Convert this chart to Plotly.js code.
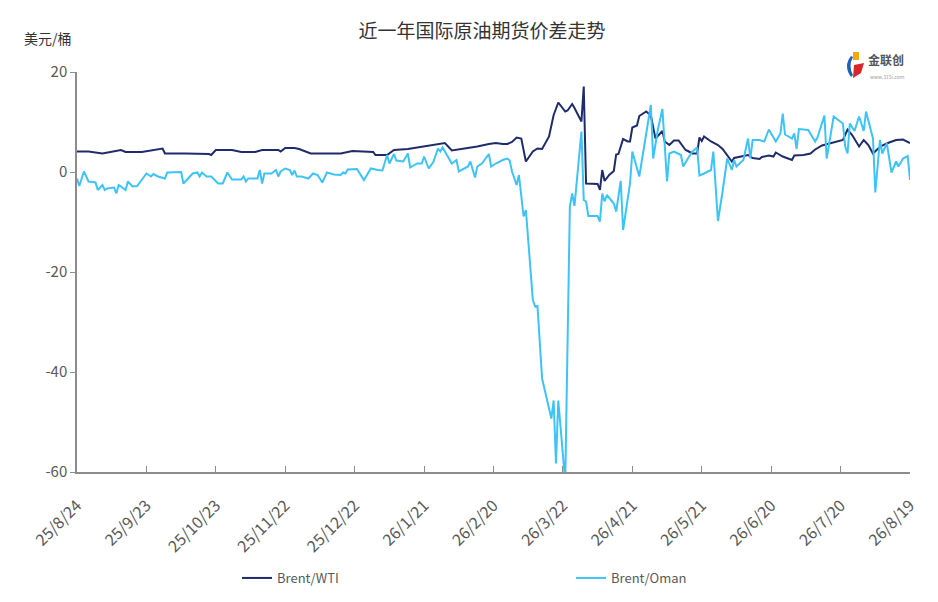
<!DOCTYPE html>
<html>
<head>
<meta charset="utf-8">
<script src="https://cdn.plot.ly/plotly-3.0.1.min.js"></script>
<style>
html,body{margin:0;padding:0;background:#fff;}
#chart{width:938px;height:602px;}
</style>
</head>
<body>
<div id="chart"></div>
<script>
// ---- data ----
const chartTitle = '近一年国际原油期货价差走势';
const unitLabel = '美元/桶';
const seriesNames = ['Brent/WTI', 'Brent/Oman'];

const wtiDates = ['2025-08-24','2025-08-29','2025-09-04','2025-09-12','2025-09-14','2025-09-21','2025-09-30','2025-10-01','2025-10-10','2025-10-20','2025-10-21','2025-10-23','2025-10-30','2025-11-03','2025-11-09','2025-11-12','2025-11-19','2025-11-20','2025-11-22','2025-11-26','2025-11-28','2025-12-03','2025-12-16','2025-12-21','2025-12-30','2025-12-31','2026-01-05','2026-01-08','2026-01-14','2026-01-21','2026-01-27','2026-01-30','2026-02-02','2026-02-07','2026-02-13','2026-02-18','2026-02-21','2026-02-24','2026-02-26','2026-02-28','2026-03-02','2026-03-04','2026-03-06','2026-03-09','2026-03-11','2026-03-13','2026-03-16','2026-03-18','2026-03-20','2026-03-23','2026-03-24','2026-03-26','2026-03-27','2026-03-30','2026-03-31','2026-04-01','2026-04-03','2026-04-06','2026-04-07','2026-04-08','2026-04-09','2026-04-11','2026-04-13','2026-04-14','2026-04-15','2026-04-17','2026-04-19','2026-04-20','2026-04-21','2026-04-23','2026-04-24','2026-04-27','2026-04-29','2026-05-01','2026-05-04','2026-05-05','2026-05-07','2026-05-09','2026-05-11','2026-05-14','2026-05-15','2026-05-17','2026-05-19','2026-05-20','2026-05-21','2026-05-22','2026-05-25','2026-05-28','2026-05-30','2026-06-01','2026-06-03','2026-06-04','2026-06-07','2026-06-10','2026-06-12','2026-06-15','2026-06-16','2026-06-19','2026-06-21','2026-06-22','2026-06-25','2026-06-29','2026-06-30','2026-07-04','2026-07-07','2026-07-09','2026-07-12','2026-07-15','2026-07-18','2026-07-21','2026-07-23','2026-07-25','2026-07-28','2026-07-30','2026-08-01','2026-08-03','2026-08-05','2026-08-07','2026-08-10','2026-08-13','2026-08-16','2026-08-19'];
const wtiValues = [4.1,4.1,3.7,4.4,4.0,4.0,4.7,3.7,3.7,3.6,3.4,4.4,4.4,4.0,4.0,4.4,4.4,4.1,4.8,4.8,4.6,3.7,3.7,4.2,4.0,3.4,3.4,4.4,4.6,5.1,5.5,5.8,4.3,4.6,5.1,5.6,5.8,5.6,5.6,6.0,6.9,6.7,2.1,4.1,4.7,4.6,7.1,11.4,13.9,12.1,12.3,13.6,12.8,10.1,17.1,-2.3,-2.4,-2.4,-3.6,0.4,-1.8,-0.6,0.2,3.5,3.6,6.6,6.1,6.1,8.9,9.3,11.2,12.1,11.3,6.7,8.2,6.1,5.4,6.3,6.3,4.4,4.2,3.7,3.7,6.9,6.2,7.1,6.1,5.4,4.6,3.4,2.1,2.8,3.1,3.4,2.8,2.6,3.0,3.3,3.1,3.9,3.1,2.4,3.3,3.4,3.7,4.5,5.3,5.7,6.0,6.4,8.5,7.4,5.1,6.4,5.4,3.7,4.6,5.3,5.9,6.4,6.5,5.8];

const omanDates = ['2025-08-24','2025-08-25','2025-08-27','2025-08-29','2025-09-01','2025-09-02','2025-09-04','2025-09-05','2025-09-06','2025-09-09','2025-09-10','2025-09-11','2025-09-12','2025-09-14','2025-09-15','2025-09-17','2025-09-19','2025-09-21','2025-09-23','2025-09-25','2025-09-26','2025-09-28','2025-10-01','2025-10-02','2025-10-08','2025-10-09','2025-10-11','2025-10-13','2025-10-15','2025-10-16','2025-10-17','2025-10-19','2025-10-21','2025-10-24','2025-10-26','2025-10-28','2025-10-30','2025-11-03','2025-11-04','2025-11-05','2025-11-06','2025-11-10','2025-11-11','2025-11-12','2025-11-13','2025-11-16','2025-11-18','2025-11-19','2025-11-20','2025-11-22','2025-11-24','2025-11-25','2025-11-26','2025-11-27','2025-11-29','2025-12-02','2025-12-04','2025-12-06','2025-12-08','2025-12-10','2025-12-13','2025-12-16','2025-12-17','2025-12-18','2025-12-19','2025-12-23','2025-12-26','2025-12-29','2026-01-01','2026-01-03','2026-01-05','2026-01-06','2026-01-08','2026-01-09','2026-01-12','2026-01-14','2026-01-15','2026-01-18','2026-01-20','2026-01-21','2026-01-23','2026-01-25','2026-01-27','2026-01-28','2026-01-29','2026-01-31','2026-02-02','2026-02-04','2026-02-05','2026-02-09','2026-02-10','2026-02-12','2026-02-13','2026-02-15','2026-02-18','2026-02-19','2026-02-21','2026-02-24','2026-02-26','2026-02-27','2026-02-28','2026-03-02','2026-03-03','2026-03-05','2026-03-06','2026-03-09','2026-03-10','2026-03-11','2026-03-13','2026-03-17','2026-03-18','2026-03-19','2026-03-20','2026-03-23','2026-03-25','2026-03-26','2026-03-27','2026-03-30','2026-03-31','2026-04-01','2026-04-02','2026-04-06','2026-04-07','2026-04-08','2026-04-09','2026-04-10','2026-04-13','2026-04-14','2026-04-16','2026-04-17','2026-04-20','2026-04-21','2026-04-24','2026-04-27','2026-04-29','2026-04-30','2026-05-02','2026-05-04','2026-05-06','2026-05-07','2026-05-09','2026-05-12','2026-05-13','2026-05-15','2026-05-17','2026-05-19','2026-05-20','2026-05-22','2026-05-25','2026-05-26','2026-05-28','2026-05-30','2026-06-01','2026-06-03','2026-06-04','2026-06-05','2026-06-08','2026-06-10','2026-06-11','2026-06-12','2026-06-15','2026-06-17','2026-06-19','2026-06-22','2026-06-24','2026-06-25','2026-06-26','2026-06-29','2026-06-30','2026-07-01','2026-07-02','2026-07-06','2026-07-09','2026-07-10','2026-07-13','2026-07-14','2026-07-17','2026-07-21','2026-07-22','2026-07-23','2026-07-24','2026-07-26','2026-07-28','2026-07-30','2026-07-31','2026-08-03','2026-08-04','2026-08-06','2026-08-07','2026-08-09','2026-08-11','2026-08-13','2026-08-14','2026-08-16','2026-08-18','2026-08-19'];
const omanValues = [-1.3,-2.8,0.1,-1.9,-2.1,-3.6,-2.6,-3.6,-3.3,-3.1,-4.3,-2.6,-2.9,-3.6,-1.9,-2.9,-2.8,-1.6,-0.3,-0.9,-0.4,-0.9,-1.3,-0.1,0.0,-2.3,-1.3,-0.3,-0.1,-0.9,-0.1,-0.9,-0.9,-2.3,-2.3,-0.1,-1.5,-1.5,-0.9,-1.9,-1.3,-1.3,0.4,-2.3,-0.3,-0.3,0.4,-0.9,0.1,0.7,0.4,-0.6,0.3,-0.9,-0.9,-1.3,-0.3,-0.6,-2.1,-0.1,-0.5,-0.6,-0.1,-0.3,0.5,0.6,-1.6,0.7,0.4,0.3,3.4,1.7,3.6,2.3,2.1,3.7,0.9,1.7,1.7,3.1,0.7,2.0,4.7,4.1,4.9,3.4,1.7,2.4,0.1,1.1,2.1,-1.1,1.1,1.7,3.6,1.1,1.7,2.4,2.7,2.3,0.1,-2.6,-0.6,-8.9,-7.6,-25.6,-26.9,-26.8,-41.3,-49.3,-45.7,-58.3,-45.7,-62,-6.9,-4.3,-6.8,8.1,-5.6,-5.9,-8.8,-8.8,-9.9,-4.3,-5.9,-4.6,-6.3,-7.9,-1.8,-11.6,-2.3,4.1,-0.9,7.7,13.4,2.7,8.4,12.6,-1.9,3.7,4.1,3.4,1.1,2.7,4.1,4.9,-0.7,-0.3,0.4,4.1,-9.8,-3.9,2.7,0.4,2.4,1.1,2.4,6.7,2.7,6.4,6.4,6.1,8.5,6.1,7.7,11.7,7.5,6.7,7.7,4.6,8.6,8.4,6.1,6.9,11.3,2.7,11.1,9.7,5.1,3.7,9.7,8.2,11.1,8.2,12.1,6.7,-4.1,6.4,3.7,5.7,-0.1,2.1,1.1,2.7,3.2,-1.6];

const tickDates = ['2025-08-24','2025-09-23','2025-10-23','2025-11-22','2025-12-22','2026-01-21','2026-02-20','2026-03-22','2026-04-21','2026-05-21','2026-06-20','2026-07-20','2026-08-19'];
const tickLabels = ['25/8/24','25/9/23','25/10/23','25/11/22','25/12/22','26/1/21','26/2/20','26/3/22','26/4/21','26/5/21','26/6/20','26/7/20','26/8/19'];
const yTicks = [-60,-40,-20,0,20];
const yTickLabels = ['-60','-40','-20','0','20'];

// ---- chart ----
const FONT = '"Noto Sans CJK SC", "Noto Sans", sans-serif';
const W = 938, H = 602, L = 77, R = 28, T = 72, B = 130;
const PW = W - L - R, PH = H - T - B;
const px = v => (v - L) / PW;       // pixel x -> paper x
const py = v => (H - B - v) / PH;   // pixel y -> paper y

const traces = [
  {x: wtiDates, y: wtiValues, name: seriesNames[0], type: 'scatter', mode: 'lines',
   legend: 'legend', line: {color: '#1f2c6b', width: 2}},
  {x: omanDates, y: omanValues, name: seriesNames[1], type: 'scatter', mode: 'lines',
   legend: 'legend2', line: {color: '#3ec3f6', width: 2}}
];

const legendFont = {family: FONT, size: 13, color: '#595959'};
const axisGray = '#8c8c8c';
const layout = {
  width: W, height: H,
  margin: {l: L, r: R, t: T, b: B},
  paper_bgcolor: '#ffffff', plot_bgcolor: '#ffffff',
  font: {family: FONT, color: '#595959', size: 14},
  title: {text: chartTitle, xref: 'container', x: 482/W, xanchor: 'center', y: 1 - 31/H, yanchor: 'middle', yref: 'container',
          font: {family: FONT, size: 19, color: '#333333'}},
  showlegend: true,
  legend: {orientation: 'h', xref: 'container', yref: 'container', x: 237/W, xanchor: 'left',
           y: 1 - 578/H, yanchor: 'middle', font: legendFont, bgcolor: 'rgba(0,0,0,0)'},
  legend2: {orientation: 'h', xref: 'container', yref: 'container', x: 571/W, xanchor: 'left',
           y: 1 - 578/H, yanchor: 'middle', font: legendFont, bgcolor: 'rgba(0,0,0,0)'},
  // main x axis: carries the labels, pushed down with an invisible outside tick
  xaxis: {type: 'date', range: [tickDates[0], tickDates[tickDates.length - 1]], automargin: false,
          tickmode: 'array', tickvals: tickDates, ticktext: tickLabels, tickangle: -45,
          ticks: 'outside', ticklen: 16, tickcolor: 'rgba(0,0,0,0)', tickwidth: 1,
          showline: true, linecolor: axisGray, linewidth: 1.5,
          showgrid: false, zeroline: false,
          tickfont: {family: FONT, size: 16, color: '#595959'}},
  // overlay x axis: only the inside tick marks
  xaxis2: {type: 'date', overlaying: 'x', side: 'bottom', anchor: 'y', matches: 'x', automargin: false,
           tickmode: 'array', tickvals: tickDates, showticklabels: false,
           ticks: 'inside', ticklen: 6, tickcolor: axisGray, tickwidth: 1,
           showline: false, showgrid: false, zeroline: false},
  yaxis: {range: [-60, 20], automargin: false, tickmode: 'array', tickvals: yTicks, ticktext: yTickLabels,
          ticks: 'outside', ticklen: 5, tickcolor: axisGray,
          showline: true, linecolor: axisGray, linewidth: 1.5,
          showgrid: false, zeroline: false,
          tickfont: {family: FONT, size: 15, color: '#595959'}},
  annotations: [
    {text: unitLabel, xref: 'paper', yref: 'paper', x: px(22), xanchor: 'left', y: py(38), yanchor: 'middle',
     showarrow: false, font: {family: FONT, size: 14, color: '#333333'}},
    {text: '<b>金联创</b>', xref: 'paper', yref: 'paper', x: px(866), xanchor: 'left', y: py(59), yanchor: 'middle',
     showarrow: false, font: {family: FONT, size: 12, color: '#555555'}},
    {text: 'www.315i.com', xref: 'paper', yref: 'paper', x: px(868), xanchor: 'left', y: py(76), yanchor: 'middle',
     showarrow: false, font: {family: FONT, size: 5, color: '#999999'}}
  ],
  shapes: [
    {type: 'path', xref: 'paper', yref: 'paper', layer: 'above',
     path: 'M ' + px(851) + ' ' + py(56) + ' Q ' + px(843) + ' ' + py(66) + ' ' + px(851) + ' ' + py(77) + ' L ' + px(853) + ' ' + py(75) + ' Q ' + px(848) + ' ' + py(66) + ' ' + px(853) + ' ' + py(57) + ' Z',
     fillcolor: '#1f5fb4', line: {width: 0}},
    {type: 'rect', xref: 'paper', yref: 'paper', layer: 'above',
     x0: px(853), x1: px(859), y0: py(60), y1: py(52),
     fillcolor: '#f2a81d', line: {width: 0}},
    {type: 'path', xref: 'paper', yref: 'paper', layer: 'above',
     path: 'M ' + px(854) + ' ' + py(65) + ' L ' + px(864) + ' ' + py(63) + ' L ' + px(861) + ' ' + py(73) + ' L ' + px(853) + ' ' + py(78) + ' Z',
     fillcolor: '#d8262c', line: {width: 0}}
  ]
};

// a hidden helper trace puts xaxis2 into use so its inside ticks are drawn
traces.push({x: [tickDates[0]], y: [null], xaxis: 'x2', yaxis: 'y', type: 'scatter', mode: 'lines',
             showlegend: false, hoverinfo: 'skip'});

Plotly.newPlot('chart', traces, layout, {displayModeBar: false, responsive: false});
</script>
</body>
</html>
